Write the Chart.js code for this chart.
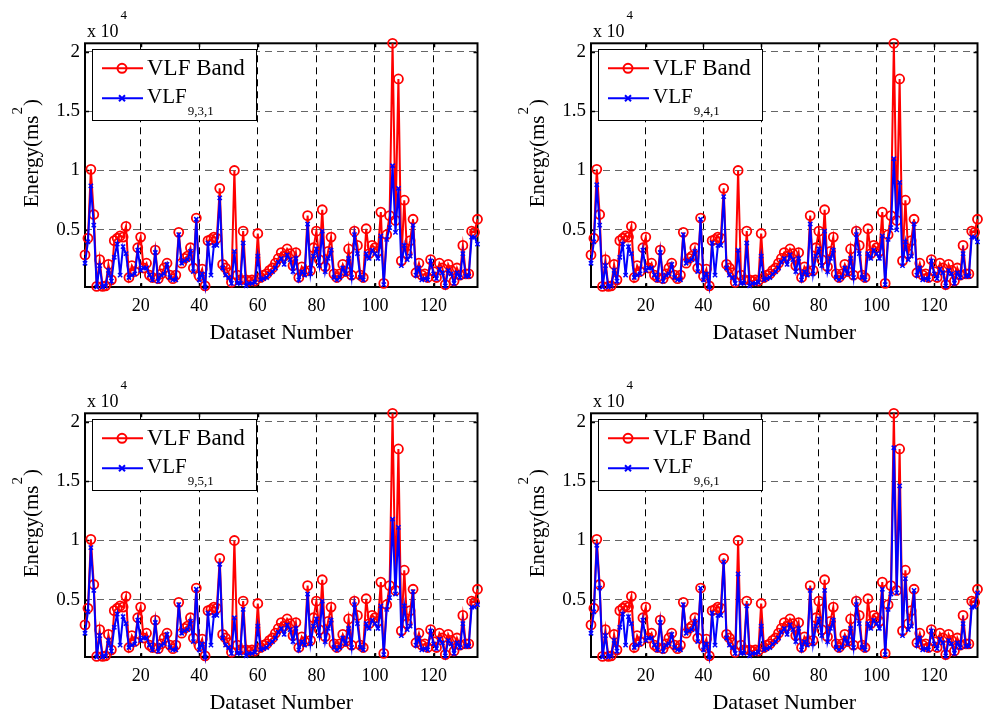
<!DOCTYPE html>
<html>
<head>
<meta charset="utf-8">
<script src="https://cdn.jsdelivr.net/npm/chart.js@4.4.0/dist/chart.umd.min.js"></script>
<style>
  body { margin: 0; background: #fff; }
  #wrap { position: relative; width: 984px; height: 716px; overflow: hidden; }
  canvas { position: absolute; }
</style>
</head>
<body>
<div id="wrap">
  <canvas id="p1"></canvas>
  <canvas id="p2"></canvas>
  <canvas id="p3"></canvas>
  <canvas id="p4"></canvas>
</div>
<script>
// energy per dataset (ms^2)
var vlfBand = [
  2900, 4300, 10100, 6300, 250, 2500, 250, 300, 2100, 800,
  4100, 4300, 4500, 4400, 5300, 1000, 2000, 1500, 3500, 4400,
  1800, 2200, 1200, 1000, 3300, 900, 1300, 1800, 2200, 1200,
  900, 1200, 4800, 2200, 2600, 2800, 3500, 1800, 6000, 1100,
  1700, 300, 4100, 4200, 4400, 4300, 8500, 2100, 1800, 1400,
  600, 10000, 1200, 800, 4900, 800, 700, 800, 700, 4700,
  1000, 1200, 1300, 1600, 1800, 2200, 2600, 3100, 2800, 3400,
  3000, 2000, 3100, 1000, 1900, 1500, 6200, 1600, 3500, 4900,
  2500, 6700, 1900, 3200, 4400, 1300, 1000, 1300, 2100, 1500,
  3400, 1200, 4900, 3700, 1200, 1000, 5100, 3000, 3700, 3500,
  3200, 6500, 500, 4600, 6200, 20700, 5800, 17700, 2400, 7500,
  3000, 4100, 5900, 1400, 2200, 1200, 1300, 1000, 2500, 1500,
  1000, 2200, 1800, 400, 2100, 1600, 700, 1800, 1200, 3700,
  1300, 1300, 4900, 4800, 5900
];
var vlf931 = [
  2200, 4000, 8700, 5400, 200, 2000, 200, 300, 1600, 700,
  2700, 3800, 1200, 3600, 3000, 1000, 1200, 1300, 3300, 1600,
  1800, 1800, 1200, 800, 3100, 700, 1200, 1300, 2100, 1000,
  800, 800, 4600, 2200, 2400, 2500, 3200, 1500, 5900, 800,
  1300, 200, 3900, 1200, 3700, 3700, 7700, 1800, 1200, 1000,
  500, 3200, 500, 500, 3900, 300, 500, 500, 600, 2800,
  800, 900, 1000, 1300, 1500, 1800, 2300, 2600, 2100, 2900,
  2500, 1500, 2600, 800, 1500, 1200, 5500, 1300, 2800, 3400,
  2000, 4900, 1500, 2600, 3300, 1000, 800, 1000, 1800, 1300,
  2600, 1000, 4600, 3000, 1000, 800, 3000, 2600, 3300, 3000,
  2600, 4500, 400, 4200, 5200, 10400, 4800, 8500, 2000, 3700,
  2500, 2800, 5400, 1200, 1800, 800, 900, 800, 2400, 1300,
  900, 1700, 1400, 300, 1600, 1300, 500, 1400, 1000, 3000,
  1100, 1100, 4400, 4400, 3800
];
var vlf941 = [
  2200, 4000, 8800, 5400, 200, 2000, 200, 300, 1600, 700,
  2700, 3800, 1200, 3600, 3000, 1000, 1200, 1300, 3300, 1600,
  1800, 1800, 1200, 800, 3100, 700, 1200, 1300, 2100, 1000,
  800, 800, 4600, 2200, 2400, 2500, 3200, 1500, 5900, 800,
  1300, 200, 3900, 1200, 3700, 3700, 7800, 1800, 1200, 1000,
  500, 3300, 500, 500, 3900, 300, 500, 500, 600, 2800,
  800, 900, 1000, 1300, 1500, 1800, 2300, 2600, 2100, 2900,
  2500, 1500, 2600, 800, 1500, 1200, 5500, 1300, 2800, 3400,
  2000, 4900, 1500, 2600, 3300, 1000, 800, 1000, 1800, 1300,
  2600, 1000, 4600, 3000, 1000, 800, 3000, 2600, 3300, 3000,
  2600, 4500, 400, 4200, 5200, 11000, 5000, 9000, 2000, 4000,
  2500, 2800, 5500, 1200, 1800, 800, 900, 800, 2400, 1300,
  900, 1700, 1400, 300, 1600, 1300, 500, 1400, 1000, 3000,
  1100, 1100, 4400, 4400, 4000
];
var vlf951 = [
  2200, 4000, 9400, 5800, 200, 2000, 200, 300, 1600, 700,
  2700, 3800, 1200, 3600, 3000, 1000, 1200, 1300, 3300, 1600,
  1800, 1800, 1200, 800, 3100, 700, 1200, 1300, 2100, 1000,
  800, 800, 4600, 2200, 2400, 2500, 3200, 1500, 5900, 800,
  1300, 200, 3900, 1200, 3700, 3700, 8000, 1800, 1200, 1000,
  500, 3500, 500, 500, 4200, 300, 500, 500, 600, 2800,
  800, 900, 1000, 1300, 1500, 1800, 2300, 2600, 2100, 2900,
  2500, 1500, 2600, 800, 1500, 1200, 5500, 1300, 2800, 3400,
  2000, 4900, 1500, 2600, 3300, 1000, 800, 1000, 1800, 1300,
  2600, 1000, 4600, 3000, 1000, 800, 3000, 2600, 3300, 3000,
  2600, 4500, 400, 4200, 5200, 11800, 5500, 11100, 2000, 4500,
  2500, 2800, 5700, 1200, 1800, 800, 900, 800, 2400, 1300,
  900, 1700, 1400, 300, 1600, 1300, 500, 1400, 1000, 3000,
  1100, 1100, 4400, 4400, 4600
];
var vlf961 = [
  2200, 4000, 9600, 6000, 200, 2000, 200, 300, 1600, 700,
  2700, 3800, 1200, 3600, 3000, 1000, 1200, 1300, 3300, 1600,
  1800, 1800, 1200, 800, 3100, 700, 1200, 1300, 2100, 1000,
  800, 800, 4600, 2200, 2400, 2500, 3200, 1500, 6000, 800,
  1300, 200, 3900, 1200, 3700, 3700, 8200, 1800, 1200, 1000,
  500, 7200, 500, 500, 4500, 300, 500, 500, 600, 2800,
  800, 900, 1000, 1300, 1500, 1800, 2300, 2600, 2100, 2900,
  2500, 1500, 2600, 800, 1500, 1200, 5800, 1300, 2800, 3400,
  2000, 5800, 1500, 2600, 3300, 1000, 800, 1000, 1800, 1300,
  2600, 1000, 4600, 3000, 1000, 800, 3000, 2600, 3300, 3000,
  2600, 5900, 400, 4200, 5500, 17800, 5600, 14600, 2000, 6800,
  2500, 2800, 5800, 1200, 1800, 800, 900, 800, 2400, 1300,
  900, 1700, 1400, 300, 1600, 1300, 500, 1400, 1000, 3000,
  1100, 1100, 4400, 4400, 5600
];
var xTicks = [20, 40, 60, 80, 100, 120];
var yTicks = [5000, 10000, 15000, 20000];

var serif = "'Liberation Serif', 'Times New Roman', serif";

// one subplot per canvas; the plot box sits at the same offsets in each
var panels = [
  { id: 'p1', sub: '9,3,1', blue: vlf931, x: 0,   y: 0,   w: 492, right: 477.5 },
  { id: 'p2', sub: '9,4,1', blue: vlf941, x: 506, y: 0,   w: 478, right: 471.5 },
  { id: 'p3', sub: '9,5,1', blue: vlf951, x: 0,   y: 370, w: 492, right: 477.5 },
  { id: 'p4', sub: '9,6,1', blue: vlf961, x: 506, y: 370, w: 478, right: 471.5 }
];
var H = 346, AREA_LEFT = 85, AREA_TOP = 43.3, AREA_BOTTOM = 287;

function toXY(arr) {
  return arr.map(function (v, i) { return { x: i + 1, y: v }; });
}

// box, inner tick marks, exponent, y label and legend, drawn the matlab way
var matlabAxes = {
  id: 'matlabAxes',
  beforeDatasetsDraw: function (chart) {
    var a = chart.chartArea, ctx = chart.ctx;
    var xs = chart.scales.x, ys = chart.scales.y;
    ctx.save();
    ctx.strokeStyle = '#000';
    ctx.lineWidth = 1.5;
    xTicks.forEach(function (t) {
      var px = Math.round(xs.getPixelForValue(t)) + 0.5;
      ctx.beginPath();
      ctx.moveTo(px, a.bottom); ctx.lineTo(px, a.bottom - 4);
      ctx.moveTo(px, a.top); ctx.lineTo(px, a.top + 4);
      ctx.stroke();
    });
    yTicks.forEach(function (t) {
      var py = Math.round(ys.getPixelForValue(t)) + 0.5;
      ctx.beginPath();
      ctx.moveTo(a.left, py); ctx.lineTo(a.left + 4, py);
      ctx.moveTo(a.right, py); ctx.lineTo(a.right - 4, py);
      ctx.stroke();
    });
    ctx.lineWidth = 2;
    ctx.strokeRect(a.left, a.top, a.right - a.left, a.bottom - a.top);
    ctx.restore();
  },
  afterDraw: function (chart) {
    var a = chart.chartArea, ctx = chart.ctx;
    var sub = chart.options.plugins.matlabAxes.sub;
    ctx.save();
    ctx.fillStyle = '#000';
    ctx.textBaseline = 'alphabetic';

    // x 10^4
    ctx.font = '18px ' + serif;
    ctx.textAlign = 'left';
    ctx.fillText('x 10', a.left + 2, a.top - 6);
    var w10 = ctx.measureText('x 10').width;
    ctx.font = '13px ' + serif;
    ctx.fillText('4', a.left + 4 + w10, a.top - 24);

    // y label with superscript
    ctx.save();
    ctx.translate(a.left - 47, (a.top + a.bottom) / 2 - 11);
    ctx.rotate(-Math.PI / 2);
    ctx.font = '21px ' + serif;
    var p1 = 'Energy(ms', p3 = ')';
    var w1 = ctx.measureText(p1).width, w3 = ctx.measureText(p3).width;
    ctx.font = '15px ' + serif;
    var w2 = ctx.measureText('2').width;
    var x0 = -(w1 + w2 + w3) / 2;
    ctx.font = '21px ' + serif;
    ctx.fillText(p1, x0, 0);
    ctx.font = '15px ' + serif;
    ctx.fillText('2', x0 + w1 + 1, -16);
    ctx.font = '21px ' + serif;
    ctx.fillText(p3, x0 + w1 + w2 + 2, 0);
    ctx.restore();

    // legend
    var bx = a.left + 7, by = a.top + 6, bw = 164, bh = 71;
    ctx.fillStyle = '#fff';
    ctx.fillRect(bx, by, bw, bh);
    ctx.strokeStyle = '#000';
    ctx.lineWidth = 1;
    ctx.strokeRect(Math.round(bx) + 0.5, Math.round(by) + 0.5, bw, bh);

    var rows = [
      { color: '#ff0000', y: by + 19, marker: 'circle' },
      { color: '#0000ff', y: by + 49, marker: 'x' }
    ];
    rows.forEach(function (r) {
      ctx.strokeStyle = r.color;
      ctx.lineWidth = 2;
      ctx.beginPath();
      ctx.moveTo(bx + 10, r.y); ctx.lineTo(bx + 51, r.y);
      ctx.stroke();
      var cx = bx + 30;
      ctx.beginPath();
      if (r.marker === 'circle') {
        ctx.arc(cx, r.y, 4.5, 0, Math.PI * 2);
      } else {
        ctx.moveTo(cx - 3, r.y - 3); ctx.lineTo(cx + 3, r.y + 3);
        ctx.moveTo(cx + 3, r.y - 3); ctx.lineTo(cx - 3, r.y + 3);
      }
      ctx.stroke();
    });
    ctx.fillStyle = '#000';
    ctx.font = '23px ' + serif;
    ctx.fillText('VLF Band', bx + 55, by + 26);
    ctx.font = '21px ' + serif;
    ctx.fillText('VLF', bx + 55, by + 54);
    var wv = ctx.measureText('VLF').width;
    ctx.font = '13px ' + serif;
    ctx.fillText(sub, bx + 55 + wv + 1, by + 66);
    ctx.restore();
  }
};

panels.forEach(function (p) {
  var cv = document.getElementById(p.id);
  cv.width = p.w;
  cv.height = H;
  cv.style.left = p.x + 'px';
  cv.style.top = p.y + 'px';

  var all = vlfBand.concat(p.blue);
  var yMin = Math.min.apply(null, all);
  var yMax = Math.max.apply(null, all);

  new Chart(cv.getContext('2d'), {
    type: 'line',
    data: {
      datasets: [
        {
          label: 'VLF ' + p.sub,
          data: toXY(p.blue),
          borderColor: '#0000ff',
          borderWidth: 2,
          pointStyle: 'crossRot',
          pointRadius: 3,
          pointBorderWidth: 1.5,
          pointBorderColor: '#0000ff',
          pointBackgroundColor: '#0000ff',
          fill: false,
          tension: 0,
          clip: false,
          order: 0
        },
        {
          label: 'VLF Band',
          data: toXY(vlfBand),
          borderColor: '#ff0000',
          borderWidth: 2,
          pointStyle: 'circle',
          pointRadius: 4.5,
          pointBorderWidth: 1.8,
          pointBorderColor: '#ff0000',
          pointBackgroundColor: 'rgba(0,0,0,0)',
          fill: false,
          tension: 0,
          clip: false,
          order: 1
        }
      ]
    },
    options: {
      responsive: false,
      animation: false,
      events: [],
      layout: { padding: { left: 0, top: AREA_TOP, right: p.w - p.right, bottom: 0 } },
      plugins: {
        legend: { display: false },
        tooltip: { enabled: false },
        matlabAxes: { sub: p.sub }
      },
      scales: {
        x: {
          type: 'linear',
          min: 1,
          max: vlfBand.length,
          afterBuildTicks: function (s) { s.ticks = xTicks.map(function (v) { return { value: v }; }); },
          afterFit: function (s) { s.height = H - AREA_BOTTOM; },
          grid: { color: '#000', lineWidth: 1, drawTicks: false },
          border: { display: false, dash: [7, 5] },
          ticks: { color: '#000', padding: 8, maxRotation: 0, font: { family: serif, size: 18 } },
          title: {
            display: true,
            text: 'Dataset Number',
            color: '#000',
            padding: { top: 0, bottom: 0 },
            font: { family: serif, size: 22 }
          }
        },
        y: {
          type: 'linear',
          min: yMin,
          max: yMax,
          afterBuildTicks: function (s) { s.ticks = yTicks.map(function (v) { return { value: v }; }); },
          afterFit: function (s) { s.width = AREA_LEFT; },
          grid: { color: '#666', lineWidth: 1, drawTicks: false },
          border: { display: false, dash: [7, 5] },
          ticks: {
            color: '#000',
            padding: 5,
            font: { family: serif, size: 19 },
            callback: function (v) { return String(v / 10000); }
          }
        }
      }
    },
    plugins: [matlabAxes]
  });
});
</script>
</body>
</html>
